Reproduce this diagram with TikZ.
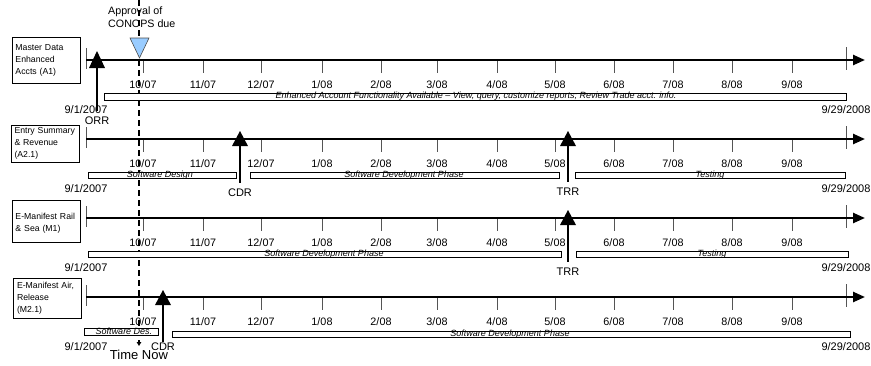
\documentclass[tikz,border=0pt]{standalone}
\usepackage{fontspec}
\setmainfont{Liberation Sans}
\usetikzlibrary{arrows.meta}
\definecolor{conops}{RGB}{153,204,255}
\definecolor{tickgray}{RGB}{85,85,85}
\tikzset{
 axis/.style={line width=2.4pt,-{Triangle[length=12pt,width=10pt]}},
 ticky/.style={line width=0.9pt,draw=tickgray},
 ticklab/.style={font=\fontsize{10.8}{12}\selectfont,inner sep=0pt},
 datelab/.style={font=\fontsize{11}{12}\selectfont,inner sep=0pt},
 phase/.style={draw,line width=0.8pt,fill=white},
 phaselab/.style={font=\fontsize{9}{9}\selectfont\itshape,inner sep=0pt,anchor=base},
 rowbox/.style={draw,line width=0.8pt,align=left,font=\fontsize{8.7}{12}\selectfont,
   inner xsep=3.5pt,inner ysep=0pt,text width=61pt,minimum width=68pt},
 ms/.style={fill=black},
 mslab/.style={font=\fontsize{11}{12}\selectfont,inner sep=0pt},
 msline/.style={line width=1.1pt},
 nowline/.style={line width=1.3pt,dash pattern=on 6pt off 4pt,-{Triangle[length=4pt,width=4.5pt]}},
 nowlab/.style={font=\fontsize{13}{14}\selectfont,inner sep=0pt},
 conopslab/.style={font=\fontsize{10.7}{13}\selectfont,inner sep=0pt,align=left,anchor=west},
}
\newcommand\tlrow[2]{%
 \coordinate (#2s) at (86,#1);
 \coordinate (#2e) at (865,#1);
 \draw[ticky] (86,#1-12) -- (86,#1+9);
 \draw[ticky] (846,#1-13) -- (846,#1+10);
 \foreach \x/\m/\yy in {143/10/07,203/11/07,261/12/07,322/1/08,381/2/08,437/3/08,497/4/08,555/5/08,614/6/08,673/7/08,732/8/08,792/9/08}{
   \draw[ticky] (\x,#1) -- (\x,#1+13);
   \node[ticklab] (#2-\m) at (\x,#1+25) {\m/\yy};
 }
 \draw[axis] (#2s) -- (#2e);
 \node[datelab] (#2d1) at (86,#1+50) {9/1/2007};
 \node[datelab] (#2d2) at (846,#1+50) {9/29/2008};
}
\begin{document}
\begin{tikzpicture}[x=1pt,y=-1pt]
\useasboundingbox (0,0) rectangle (871,365);
% Time Now line
\coordinate (nowtop) at (139,0);
\coordinate (nowend) at (139,346);
\node[nowlab] (now) at (139,355) {Time Now};
\draw[nowline] (nowtop) -- (nowend);

% row boxes
\node[rowbox,minimum height=46pt] (b1) at (46,60) {Master Data\\Enhanced\\Accts (A1)};
\node[rowbox,minimum height=37pt] (b2) at (45,143.5) {Entry Summary\\\& Revenue\\(A2.1)};
\node[rowbox,minimum height=42pt,text depth=9pt] (b3) at (46,221) {E-Manifest Rail\\\& Sea (M1)};
\node[rowbox,minimum height=40pt] (b4) at (47.5,298) {E-Manifest Air,\\Release\\(M2.1)};

% timelines
\tlrow{60}{r1}
\tlrow{139}{r2}
\tlrow{218}{r3}
\tlrow{297}{r4}

% phase bars
\draw[phase] (104,93) rectangle (846,100);
\node[phaselab] (p1) at (476,98.5) {Enhanced Account Functionality Available -- View, query, customize reports; Review Trade acct. info.};
\draw[phase] (88,172) rectangle (236,178);
\node[phaselab] (p2a) at (160,177) {Software Design};
\draw[phase] (250,172) rectangle (559,178);
\node[phaselab] (p2b) at (404,177) {Software Development Phase};
\draw[phase] (575,172) rectangle (845,178);
\node[phaselab] (p2c) at (710,177) {Testing};
\draw[phase] (88,251) rectangle (561,257);
\node[phaselab] (p3a) at (324,256) {Software Development Phase};
\draw[phase] (576,251) rectangle (848,257);
\node[phaselab] (p3b) at (712,256) {Testing};
\draw[phase] (84,328) rectangle (158,335);
\node[phaselab] (p4a) at (124,334) {Software Des.};
\draw[phase] (172,331) rectangle (850,337);
\node[phaselab] (p4b) at (510,336.5) {Software Development Phase};

% CONOPS
\node[conopslab] (conops) at (108,17.5) {Approval of\\CONOPS due};
\filldraw[fill=conops,draw=black!70,line width=0.6pt] (130,38) -- (149,38) -- (139.5,58) -- cycle;

% milestones
\coordinate (m1) at (97,60);
\node[mslab] (m1l) at (97,121) {ORR};
\draw[msline,shorten >=6pt] (m1) -- (m1l);
\fill[ms] (97,51) -- (105,68) -- (89,68) -- cycle;

\coordinate (m2) at (240,139);
\node[mslab] (m2l) at (240,193) {CDR};
\draw[msline,shorten >=6pt] (m2) -- (m2l);
\fill[ms] (240,131) -- (248,146) -- (232,146) -- cycle;

\coordinate (m3) at (568,139);
\node[mslab] (m3l) at (568,192) {TRR};
\draw[msline,shorten >=6pt] (m3) -- (m3l);
\fill[ms] (568,131) -- (576,146) -- (560,146) -- cycle;

\coordinate (m4) at (568,218);
\node[mslab] (m4l) at (568,272) {TRR};
\draw[msline,shorten >=6pt] (m4) -- (m4l);
\fill[ms] (568,210) -- (576,225) -- (560,225) -- cycle;

\coordinate (m5) at (163,297);
\node[mslab] (m5l) at (163,347) {CDR};
\draw[msline,shorten >=1pt] (m5) -- (m5l);
\fill[ms] (163,290) -- (171,305) -- (155,305) -- cycle;
\end{tikzpicture}
\end{document}
